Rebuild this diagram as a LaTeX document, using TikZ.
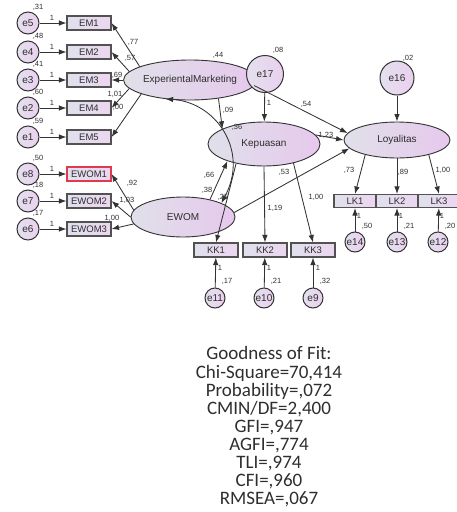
\documentclass[tikz,border=0pt]{standalone}
\usepackage{fontspec}
\setmainfont{Liberation Sans}
\newfontfamily\goffont{Carlito}
\usetikzlibrary{shapes.geometric,arrows.meta}
\definecolor{linec}{HTML}{333333}
\definecolor{txtc}{HTML}{2E2E2E}
\definecolor{boxL}{HTML}{E0E0EC}
\definecolor{boxR}{HTML}{ECD6F0}
\definecolor{latL}{HTML}{E0E0EA}
\definecolor{latR}{HTML}{E6C8EC}
\definecolor{errL}{HTML}{E4E0EE}
\definecolor{errR}{HTML}{EAD0EE}
\definecolor{redc}{HTML}{E03A4E}
\tikzset{
  latent/.style={ellipse, draw=linec, line width=0.9pt, left color=latL, right color=latR,
    inner sep=0pt, text=txtc, font=\fontsize{10}{10}\selectfont},
  obs/.style={rectangle, draw=linec!85, line width=1.1pt, left color=boxL, right color=boxR,
    minimum width=44pt, minimum height=14pt, inner sep=0pt, text=txtc, font=\fontsize{9.5}{9.5}\selectfont},
  lkbox/.style={obs, minimum width=42pt, minimum height=13pt},
  err/.style={circle, draw=linec, line width=1pt, left color=errL, right color=errR,
    minimum size=22pt, inner sep=0pt, text=txtc, font=\fontsize{10}{10}\selectfont},
  errs/.style={err, minimum size=20pt},
  arr/.style={draw=linec, line width=0.85pt, -{Latex[length=7.5pt,width=5.5pt]}},
  darr/.style={draw=linec, line width=0.85pt, {Latex[length=7.5pt,width=5.5pt]}-{Latex[length=7.5pt,width=5.5pt]}},
  num/.style={inner sep=0pt, text=txtc, font=\fontsize{7.5}{7.5}\selectfont},
}
\begin{document}
\begin{tikzpicture}[x=1pt,y=-1pt]
\useasboundingbox (0,0) rectangle (456,512);

% latent variables
\node[latent, minimum width=114pt, minimum height=40pt] (em) at (190,80) {ExperientalMarketing};
\node[latent, minimum width=112pt, minimum height=44pt] (kep) at (264,144) {Kepuasan};
\node[latent, minimum width=106pt, minimum height=36pt] (loy) at (397,140) {Loyalitas};
\node[latent, minimum width=104pt, minimum height=40pt] (ewom) at (183,217) {EWOM};

% indicators left
\foreach \n/\y in {1/23,2/52,3/80,4/108,5/137}{
  \node[obs] (em\n) at (89,\y) {EM\n};
}
\node[obs, draw=redc] (ewom1) at (89,174) {EWOM1};
\node[obs] (ewom2) at (89,201) {EWOM2};
\node[obs] (ewom3) at (89,229) {EWOM3};

% error circles left
\foreach \e/\b/\y/\v in {e5/em1/23/{,31},e4/em2/52/{,48},e3/em3/80/{,41},e2/em4/108/{,60},e1/em5/137/{,59},e8/ewom1/174/{,50},e7/ewom2/201/{,18},e6/ewom3/229/{,17}}{
  \node[err] (\e) at (28,\y) {\e};
  \draw[arr] (\e) -- (\b);
  \node[num] (l\e) at (52,\y-5) {1};
  \node[num] (v\e) at (38,\y-16) {\v};
}

% indicators of Kepuasan
\node[obs] (kk1) at (216,250) {KK1};
\node[obs] (kk2) at (265,250) {KK2};
\node[obs] (kk3) at (313,250) {KK3};
\node[errs] (e11) at (215,298) {e11};
\node[errs] (e10) at (264,298) {e10};
\node[errs] (e9) at (313,298) {e9};
\foreach \e/\b/\x/\v in {e11/kk1/215/{,17},e10/kk2/264/{,21},e9/kk3/313/{,32}}{
  \draw[arr] (\e) -- (\b);
  \node[num] (l\e) at (\x+5,268) {1};
  \node[num] (v\e) at (\x+12,281) {\v};
}

% indicators of Loyalitas
\node[lkbox] (lk1) at (355,201) {LK1};
\node[lkbox] (lk2) at (397,201) {LK2};
\node[lkbox] (lk3) at (439,201) {LK3};
\node[errs] (e14) at (355,242) {e14};
\node[errs] (e13) at (397,242) {e13};
\node[errs] (e12) at (438,242) {e12};
\foreach \e/\b/\x/\v in {e14/lk1/355/{,50},e13/lk2/397/{,21},e12/lk3/438/{,20}}{
  \draw[arr] (\e) -- (\b);
  \node[num] (l\e) at (\x+4,216) {1};
  \node[num] (v\e) at (\x+12,226) {\v};
}

% structural errors
\node[err, minimum size=37pt] (e17) at (265,74) {e17};
\node[err, minimum size=34pt] (e16) at (397,78) {e16};
\draw[arr] (e17) -- (kep);
\draw[arr] (e16) -- (loy);
\node[num] (le17) at (269,103) {1};
\node[num] (ve17) at (278,50) {,08};
\node[num] (ve16) at (408,58) {,02};
\node[num] (vem) at (218,55) {,44};
\node[num] (vkep) at (237,127) {,36};

% measurement loadings
\draw[arr] (em.165) -- (em1.east);
\draw[arr] (em.172) -- (em2.east);
\draw[arr] (em.180) -- (em3.east);
\draw[arr] (em.188) -- (em4.east);
\draw[arr] (em.196) -- (em5.east);
\node[num] (a1) at (133,42) {,77};
\node[num] (a2) at (130,58) {,57};
\node[num] (a3) at (117,75) {,69};
\node[num] (a4) at (115,94) {1,01};
\node[num] (a5) at (118,107) {,00};

\draw[arr] (ewom.172) -- (ewom1.east);
\draw[arr] (ewom.180) -- (ewom2.east);
\draw[arr] (ewom.188) -- (ewom3.east);
\node[num] (b1) at (132,183) {,92};
\node[num] (b2) at (127,200) {1,03};
\node[num] (b3) at (112,218) {1,00};

\draw[arr] (kep.215) -- (kk1.north);
\draw[arr] (kep.270) -- (kk2.north);
\draw[arr] (kep.-33) -- (kk3.north);
\node[num] (c2) at (275,208) {1,19};
\node[num] (c3) at (316,197) {1,00};

\draw[arr] (loy.205) -- (lk1.north);
\draw[arr] (loy.270) -- (lk2.north);
\draw[arr] (loy.-25) -- (lk3.north);
\node[num] (d1) at (349,170) {,73};
\node[num] (d2) at (403,172) {,89};
\node[num] (d3) at (443,170) {1,00};

% structural paths
\draw[arr] (em.-33) -- (kep.160);
\node[num] (p1) at (228,110) {,09};
\draw[arr] (em.-5) -- (loy.172);
\node[num] (p2) at (306,104) {,54};
\draw[arr] (kep.10) -- (loy.180);
\node[num] (p3) at (326,135) {1,23};
\draw[arr] (ewom.5) -- (loy.190);
\node[num] (p4) at (284,172) {,53};
\draw[arr] (ewom.33) -- (kep.205);
\node[num] (p5) at (209,175) {,66};
\node[num] (p6) at (207,190) {,38};
\draw[darr] (em.218) .. controls (215,102) and (250,150) .. (ewom.20);
\node[num] (p7) at (223,197) {,25};

% goodness of fit
\node[align=center, text=txtc, font=\goffont\fontsize{19}{18.1}\selectfont, inner sep=0pt] (gof) at (269,427)
  {Goodness of Fit:\\Chi-Square=70,414\\Probability=,072\\CMIN/DF=2,400\\GFI=,947\\AGFI=,774\\TLI=,974\\CFI=,960\\RMSEA=,067};
\end{tikzpicture}
\end{document}
